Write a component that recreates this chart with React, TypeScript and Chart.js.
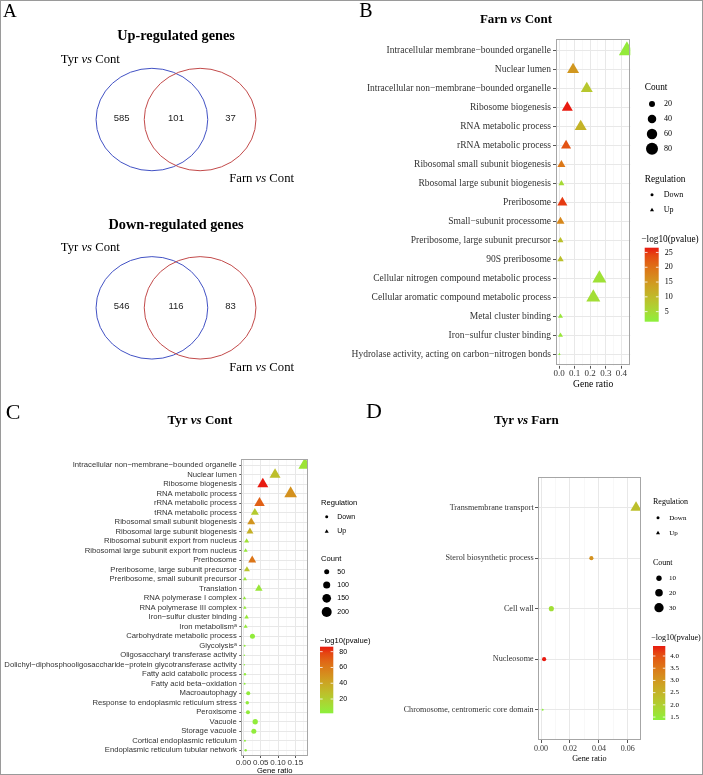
import React, { useEffect, useRef } from 'react';
import { Chart, registerables } from 'chart.js';

Chart.register(...registerables);

type Reg = 'Up' | 'Down';

const SERIF = '"Liberation Serif", "Times New Roman", serif';
const SANS = '"Liberation Sans", Arial, sans-serif';

// ================= DATA =================
// Panel A – Venn counts [left only, overlap, right only]
const VENN_TITLES = ['Up-regulated genes', 'Down-regulated genes'];
const VENN_LEFT_SET = 'Tyr';
const VENN_RIGHT_SET = 'Farn';
const VENN_UP_COUNTS = [585, 101, 37];
const VENN_DOWN_COUNTS = [546, 116, 83];

// Panel B – Farn vs Cont
const B_TERMS = [
  'Intracellular membrane−bounded organelle',
  'Nuclear lumen',
  'Intracellular non−membrane−bounded organelle',
  'Ribosome biogenesis',
  'RNA metabolic process',
  'rRNA metabolic process',
  'Ribosomal small subunit biogenesis',
  'Rbosomal large subunit biogenesis',
  'Preribosome',
  'Small−subunit processome',
  'Preribosome, large subunit precursor',
  '90S preribosome',
  'Cellular nitrogen compound metabolic process',
  'Cellular aromatic compound metabolic process',
  'Metal cluster binding',
  'Iron−sulfur cluster binding',
  'Hydrolase activity, acting on carbon−nitrogen bonds',
];
const B_RATIO = [0.436, 0.09, 0.178, 0.053, 0.139, 0.045, 0.015, 0.015, 0.021, 0.009, 0.009, 0.009, 0.259, 0.22, 0.009, 0.009, 0.002];
const B_COUNT = [80, 44, 44, 37, 44, 31, 20, 11, 31, 20, 11, 13, 60, 60, 8, 8, 2];
const B_LOGP = [2.5, 15, 8, 26.6, 11, 23, 19, 5, 25, 17, 9, 9, 4, 4.5, 3, 3, 1.6];
const B_REG: Reg[] = ['Up', 'Up', 'Up', 'Up', 'Up', 'Up', 'Up', 'Up', 'Up', 'Up', 'Up', 'Up', 'Up', 'Up', 'Up', 'Up', 'Up'];
const B_X_TICKS = [0, 0.1, 0.2, 0.3, 0.4];
const B_COUNT_BREAKS = [20, 40, 60, 80];
const B_COLOR_BREAKS = [5, 10, 15, 20, 25];

// Panel C – Tyr vs Cont
const C_TERMS = [
  'Intracellular non−membrane−bounded organelle',
  'Nuclear lumen',
  'Ribosome biogenesis',
  'RNA metabolic process',
  'rRNA metabolic process',
  'tRNA metabolic process',
  'Ribosomal small subunit biogenesis',
  'Ribosomal large subunit biogenesis',
  'Ribosomal subunit export from nucleus',
  'Ribosomal large subunit export from nucleus',
  'Preribosome',
  'Preribosome, large subunit precursor',
  'Preribosome, small subunit precursor',
  'Translation',
  'RNA polymerase I complex',
  'RNA polymerase III complex',
  'Iron−sulfur cluster binding',
  'Iron metabolismᵃ',
  'Carbohydrate metabolic process',
  'Glycolysisᵃ',
  'Oligosaccharyl transferase activity',
  'Dolichyl−diphosphooligosaccharide−protein glycotransferase activity',
  'Fatty acid catabolic process',
  'Fatty acid beta−oxidation',
  'Macroautophagy',
  'Response to endoplasmic reticulum stress',
  'Peroxisome',
  'Vacuole',
  'Storage vacuole',
  'Cortical endoplasmic reticulum',
  'Endoplasmic reticulum tubular network',
];
const C_RATIO = [0.178, 0.0914, 0.056, 0.1365, 0.0465, 0.033, 0.0225, 0.0187, 0.0092, 0.0063, 0.0253, 0.01, 0.0043, 0.0445, 0.003, 0.004, 0.009, 0.0063, 0.026, 0.0034, 0.0025, 0.0025, 0.0043, 0.0034, 0.0138, 0.011, 0.013, 0.034, 0.03, 0.0043, 0.0063];
const C_COUNT = [190, 133, 133, 177, 121, 70, 70, 54, 28, 18, 70, 40, 18, 62, 13, 13, 22, 18, 50, 8, 5, 5, 11, 8, 32, 24, 32, 56, 50, 8, 11];
const C_LOGP = [9, 28, 86.3, 50, 70, 22, 48, 35, 10, 6, 62, 25, 8, 7, 5, 5, 6, 5, 4, 3, 1.9, 2.5, 4, 3, 4, 4, 4, 4, 4, 3, 3];
const C_REG: Reg[] = [
  'Up', 'Up', 'Up', 'Up', 'Up', 'Up', 'Up', 'Up', 'Up', 'Up', 'Up', 'Up', 'Up', 'Up', 'Up', 'Up', 'Up', 'Up',
  'Down', 'Down', 'Down', 'Down', 'Down', 'Down', 'Down', 'Down', 'Down', 'Down', 'Down', 'Down', 'Down',
];
const C_X_TICKS = [0, 0.05, 0.1, 0.15];
const C_COUNT_BREAKS = [50, 100, 150, 200];
const C_COLOR_BREAKS = [20, 40, 60, 80];

// Panel D – Tyr vs Farn
const D_TERMS = [
  'Transmembrane transport',
  'Sterol biosynthetic process',
  'Cell wall',
  'Nucleosome',
  'Chromosome, centromeric core domain',
];
const D_RATIO = [0.0657, 0.0348, 0.0071, 0.0021, 0.0011];
const D_COUNT = [24, 6, 9, 6, 1.4];
const D_LOGP = [2.3, 3.1, 1.7, 4.41, 1.38];
const D_REG: Reg[] = ['Up', 'Down', 'Down', 'Down', 'Down'];
const D_X_TICKS = [0, 0.02, 0.04, 0.06];
const D_COUNT_BREAKS = [10, 20, 30];
const D_COLOR_BREAKS = [1.5, 2.0, 2.5, 3.0, 3.5, 4.0];

// ================= COLOUR =================
const LOW_COLOR = '#8CF03C';
const HIGH_COLOR = '#E81A10';

const XN = 0.95047;
const ZN = 1.08883;
function hexToRgb(h: string): number[] {
  const n = parseInt(h.slice(1), 16);
  return [(n >> 16) & 255, (n >> 8) & 255, n & 255];
}
const toLin = (c: number) => {
  c /= 255;
  return c <= 0.04045 ? c / 12.92 : Math.pow((c + 0.055) / 1.055, 2.4);
};
const fromLin = (c: number) => {
  const v = c <= 0.0031308 ? 12.92 * c : 1.055 * Math.pow(Math.max(c, 0), 1 / 2.4) - 0.055;
  return Math.round(Math.min(1, Math.max(0, v)) * 255);
};
function rgbToLab(rgb: number[]): number[] {
  const R = toLin(rgb[0]), G = toLin(rgb[1]), B = toLin(rgb[2]);
  const X = (0.4124 * R + 0.3576 * G + 0.1805 * B) / XN;
  const Y = 0.2126 * R + 0.7152 * G + 0.0722 * B;
  const Z = (0.0193 * R + 0.1192 * G + 0.9505 * B) / ZN;
  const f = (t: number) => (t > 0.008856 ? Math.cbrt(t) : 7.787 * t + 16 / 116);
  const fx = f(X), fy = f(Y), fz = f(Z);
  return [116 * fy - 16, 500 * (fx - fy), 200 * (fy - fz)];
}
function labToRgb(lab: number[]): number[] {
  const fy = (lab[0] + 16) / 116;
  const fx = fy + lab[1] / 500;
  const fz = fy - lab[2] / 200;
  const inv = (t: number) => (t * t * t > 0.008856 ? t * t * t : (t - 16 / 116) / 7.787);
  const X = inv(fx) * XN, Y = inv(fy), Z = inv(fz) * ZN;
  return [
    fromLin(3.2406 * X - 1.5372 * Y - 0.4986 * Z),
    fromLin(-0.9689 * X + 1.8758 * Y + 0.0415 * Z),
    fromLin(0.0557 * X - 0.204 * Y + 1.057 * Z),
  ];
}
const LAB_LOW = rgbToLab(hexToRgb(LOW_COLOR));
const LAB_HIGH = rgbToLab(hexToRgb(HIGH_COLOR));
function gradColor(t: number): string {
  const u = Math.min(1, Math.max(0, t));
  const lab = LAB_LOW.map((v, i) => v + (LAB_HIGH[i] - v) * u);
  const c = labToRgb(lab);
  return `rgb(${c[0]},${c[1]},${c[2]})`;
}

// ================= HELPERS =================
type Part = { t: string; f: string };
function drawParts(ctx: CanvasRenderingContext2D, parts: Part[], x: number, y: number, align: 'center' | 'left', color = '#000') {
  ctx.save();
  ctx.fillStyle = color;
  ctx.textBaseline = 'middle';
  ctx.textAlign = 'left';
  const widths = parts.map((p) => {
    ctx.font = p.f;
    return ctx.measureText(p.t).width;
  });
  const total = widths.reduce((a, b) => a + b, 0);
  let cx = align === 'center' ? x - total / 2 : x;
  parts.forEach((p, i) => {
    ctx.font = p.f;
    ctx.fillText(p.t, cx, y);
    cx += widths[i];
  });
  ctx.restore();
}
function drawText(ctx: CanvasRenderingContext2D, t: string, x: number, y: number, font: string, align: CanvasTextAlign = 'left', baseline: CanvasTextBaseline = 'middle', color = '#000') {
  ctx.save();
  ctx.font = font;
  ctx.fillStyle = color;
  ctx.textAlign = align;
  ctx.textBaseline = baseline;
  ctx.fillText(t, x, y);
  ctx.restore();
}
function drawShape(ctx: CanvasRenderingContext2D, shape: 'circle' | 'triangle', x: number, y: number, r: number, color: string) {
  ctx.save();
  ctx.fillStyle = color;
  ctx.beginPath();
  if (shape === 'circle') {
    ctx.arc(x, y, r, 0, Math.PI * 2);
  } else {
    const R = r * 1.555;
    let a = 0;
    ctx.moveTo(x + Math.sin(a) * R, y - Math.cos(a) * R);
    a += (2 * Math.PI) / 3;
    ctx.lineTo(x + Math.sin(a) * R, y - Math.cos(a) * R);
    a += (2 * Math.PI) / 3;
    ctx.lineTo(x + Math.sin(a) * R, y - Math.cos(a) * R);
    ctx.closePath();
  }
  ctx.fill();
  ctx.restore();
}

// ================= PANEL A (Venn) =================
const VENN_ROW_Y = [2.108, 5.429];
const VENN_OFFSET = 0.425;
const VENN_RX = 0.985;
const VENN_RY = 0.903;

function makeVenn(canvas: HTMLCanvasElement) {
  const rows = [VENN_UP_COUNTS, VENN_DOWN_COUNTS];
  const vennPlugin = {
    id: 'venn',
    afterDraw(chart: any) {
      const ctx: CanvasRenderingContext2D = chart.ctx;
      const xs = chart.scales.x;
      const ys = chart.scales.y;
      const unitX = xs.getPixelForValue(1) - xs.getPixelForValue(0);
      const unitY = Math.abs(ys.getPixelForValue(1) - ys.getPixelForValue(0));
      const left = chart.getDatasetMeta(0).data;
      const right = chart.getDatasetMeta(1).data;
      const colors = ['#4252C4', '#C24A4A'];
      drawText(ctx, 'A', 3, 17, `19px ${SERIF}`, 'left', 'alphabetic');
      rows.forEach((counts, r) => {
        [left[r], right[r]].forEach((el: any, k: number) => {
          ctx.save();
          ctx.strokeStyle = colors[k];
          ctx.lineWidth = 1;
          ctx.beginPath();
          ctx.ellipse(el.x, el.y, VENN_RX * unitX, VENN_RY * unitY, 0, 0, Math.PI * 2);
          ctx.stroke();
          ctx.restore();
        });
        const cx = (left[r].x + right[r].x) / 2;
        const cy = (left[r].y + right[r].y) / 2;
        drawText(ctx, VENN_TITLES[r], cx, cy - 1.46 * unitY, `bold 14.3px ${SERIF}`, 'center');
        drawParts(ctx, [
          { t: VENN_LEFT_SET + ' ', f: `12.7px ${SERIF}` },
          { t: 'vs', f: `italic 12.7px ${SERIF}` },
          { t: ' Cont', f: `12.7px ${SERIF}` },
        ], cx - 1.51 * unitX, cy - 1.06 * unitY, 'center');
        drawParts(ctx, [
          { t: VENN_RIGHT_SET + ' ', f: `12.7px ${SERIF}` },
          { t: 'vs', f: `italic 12.7px ${SERIF}` },
          { t: ' Cont', f: `12.7px ${SERIF}` },
        ], cx + 1.51 * unitX, cy + 1.05 * unitY, 'center');
        const xsPos = [cx - 0.96 * unitX, cx, cx + 0.96 * unitX];
        counts.forEach((c, i) => drawText(ctx, String(c), xsPos[i], cy - 0.025 * unitY, `9.5px ${SANS}`, 'center', 'middle', '#222'));
      });
    },
  };
  return new Chart(canvas, {
    type: 'scatter',
    data: {
      datasets: [
        { label: VENN_LEFT_SET + ' vs Cont', data: VENN_ROW_Y.map((y) => ({ x: -VENN_OFFSET, y })), pointRadius: 0 },
        { label: VENN_RIGHT_SET + ' vs Cont', data: VENN_ROW_Y.map((y) => ({ x: VENN_OFFSET, y })), pointRadius: 0 },
      ],
    },
    options: {
      responsive: false,
      animation: false,
      events: [],
      layout: { padding: 0 },
      plugins: { legend: { display: false }, tooltip: { enabled: false } },
      scales: {
        x: { type: 'linear', display: false, min: -3.104, max: 3.104 },
        y: { type: 'linear', display: false, min: 0, max: 6.878, reverse: true },
      },
    } as any,
    plugins: [vennPlugin],
  });
}

// ================= DOT PLOTS =================
interface LegendLayout {
  regTitle: number[]; regSymX: number; regLabelX: number; regYs: number[];
  countTitle: number[]; countSymX: number; countLabelX: number; countYs: number[];
  colorTitle: number[]; bar: number[]; barLabelX: number;
}
interface DotCfg {
  W: number; H: number;
  area: { left: number; right: number; top: number; bottom: number };
  terms: string[]; ratio: number[]; count: number[]; logp: number[]; reg: Reg[];
  xMajor: number[]; decimals: number;
  countBreaks: number[]; colorBreaks: number[]; colorDecimals: number;
  sizeK: number;
  labelFont: string; yLabelSize: number; xLabelSize: number;
  yTickLen: number; yPad: number; xTickLen: number; xPad: number;
  letter: { text: string; size: number; x: number; y: number };
  title: { parts: string[]; size: number; cx: number; cy: number };
  xTitle: { size: number; cy: number; font: string };
  legendFont: string; legendTitleSize: number; legendLabelSize: number;
  legend: LegendLayout;
}

function makeDot(canvas: HTMLCanvasElement, cfg: DotCfg) {
  const n = cfg.terms.length;
  const dmin = Math.min(...cfg.ratio);
  const dmax = Math.max(...cfg.ratio);
  const ex = (dmax - dmin) * 0.05;
  const xMin = dmin - ex;
  const xMax = dmax + ex;
  const step = cfg.xMajor[1] - cfg.xMajor[0];
  const minor: number[] = [];
  [cfg.xMajor[0] - step, ...cfg.xMajor].forEach((m) => {
    const v = m + step / 2;
    if (v > xMin && v < xMax) minor.push(v);
  });
  const pMin = Math.min(...cfg.logp);
  const pMax = Math.max(...cfg.logp);
  const colorOf = (v: number) => gradColor((v - pMin) / (pMax - pMin));
  const radiusOf = (c: number) => cfg.sizeK * Math.sqrt(c);

  const decor = {
    id: 'decor',
    afterDraw(chart: any) {
      const ctx: CanvasRenderingContext2D = chart.ctx;
      const a = chart.chartArea;
      // panel border
      ctx.save();
      ctx.strokeStyle = '#A6A6A6';
      ctx.lineWidth = 1;
      ctx.strokeRect(Math.round(a.left) + 0.5, Math.round(a.top) + 0.5, Math.round(a.right - a.left) - 1, Math.round(a.bottom - a.top) - 1);
      ctx.restore();
      // letter + title
      drawText(ctx, cfg.letter.text, cfg.letter.x, cfg.letter.y, `${cfg.letter.size}px ${SERIF}`, 'left', 'alphabetic');
      const tp = cfg.title.parts;
      drawParts(ctx, [
        { t: tp[0], f: `bold ${cfg.title.size}px ${SERIF}` },
        { t: tp[1], f: `bold italic ${cfg.title.size}px ${SERIF}` },
        { t: tp[2], f: `bold ${cfg.title.size}px ${SERIF}` },
      ], cfg.title.cx, cfg.title.cy, 'center');
      // x title
      drawText(ctx, 'Gene ratio', (a.left + a.right) / 2, cfg.xTitle.cy, `${cfg.xTitle.size}px ${cfg.xTitle.font}`, 'center');
      // legends
      const L = cfg.legend;
      const tf = `${cfg.legendTitleSize}px ${cfg.legendFont}`;
      const lf = `${cfg.legendLabelSize}px ${cfg.legendFont}`;
      drawText(ctx, 'Regulation', L.regTitle[0], L.regTitle[1], tf);
      drawShape(ctx, 'circle', L.regSymX, L.regYs[0], 1.5, '#000');
      drawText(ctx, 'Down', L.regLabelX, L.regYs[0], lf);
      drawShape(ctx, 'triangle', L.regSymX, L.regYs[1] + 0.5, 1.5, '#000');
      drawText(ctx, 'Up', L.regLabelX, L.regYs[1], lf);
      drawText(ctx, 'Count', L.countTitle[0], L.countTitle[1], tf);
      cfg.countBreaks.forEach((b, i) => {
        drawShape(ctx, 'circle', L.countSymX, L.countYs[i], radiusOf(b), '#000');
        drawText(ctx, String(b), L.countLabelX, L.countYs[i], lf);
      });
      drawText(ctx, '−log10(pvalue)', L.colorTitle[0], L.colorTitle[1], tf);
      const [bx, by, bw, bh] = L.bar;
      const g = ctx.createLinearGradient(0, by + bh, 0, by);
      for (let i = 0; i <= 10; i++) g.addColorStop(i / 10, gradColor(i / 10));
      ctx.save();
      ctx.fillStyle = g;
      ctx.fillRect(bx, by, bw, bh);
      ctx.strokeStyle = '#fff';
      ctx.lineWidth = 0.8;
      cfg.colorBreaks.forEach((v) => {
        const yy = by + bh * (1 - (v - pMin) / (pMax - pMin));
        ctx.beginPath();
        ctx.moveTo(bx, yy);
        ctx.lineTo(bx + bw / 5, yy);
        ctx.moveTo(bx + (bw * 4) / 5, yy);
        ctx.lineTo(bx + bw, yy);
        ctx.stroke();
        drawText(ctx, v.toFixed(cfg.colorDecimals), L.barLabelX, yy, lf);
      });
      ctx.restore();
    },
  };

  const xTicks = [...cfg.xMajor.map((v) => ({ value: v, minor: false })), ...minor.map((v) => ({ value: v, minor: true }))].sort((p, q) => p.value - q.value);

  return new Chart(canvas, {
    type: 'scatter',
    data: {
      datasets: [
        {
          label: 'terms',
          data: cfg.terms.map((_, i) => ({ x: cfg.ratio[i], y: i })),
          pointStyle: (c: any) => (cfg.reg[c.dataIndex] === 'Up' ? 'triangle' : 'circle'),
          pointRadius: (c: any) => {
            const r = radiusOf(cfg.count[c.dataIndex]);
            return cfg.reg[c.dataIndex] === 'Up' ? r * 1.555 : r;
          },
          pointBackgroundColor: (c: any) => colorOf(cfg.logp[c.dataIndex]),
          pointBorderWidth: 0,
          pointBorderColor: 'rgba(0,0,0,0)',
          clip: 0,
        },
      ],
    },
    options: {
      responsive: false,
      animation: false,
      events: [],
      layout: { padding: { left: 0, top: cfg.area.top, right: cfg.W - cfg.area.right, bottom: 0 } },
      plugins: { legend: { display: false }, tooltip: { enabled: false }, title: { display: false } },
      scales: {
        x: {
          type: 'linear',
          min: xMin,
          max: xMax,
          afterBuildTicks: (s: any) => {
            s.ticks = xTicks.map((t) => ({ ...t }));
          },
          afterFit: (s: any) => {
            s.height = cfg.H - cfg.area.bottom;
          },
          ticks: {
            autoSkip: false,
            maxRotation: 0,
            padding: cfg.xPad,
            color: '#333',
            font: { family: cfg.labelFont, size: cfg.xLabelSize },
            callback: (v: any, i: number, ticks: any[]) => (ticks[i] && ticks[i].minor ? '' : Number(v).toFixed(cfg.decimals)),
          },
          grid: {
            color: (c: any) => (c.tick && c.tick.minor ? '#F3F3F3' : '#E8E8E8'),
            lineWidth: (c: any) => (c.tick && c.tick.minor ? 0.6 : 1),
            tickColor: (c: any) => (c.tick && c.tick.minor ? 'rgba(0,0,0,0)' : '#555'),
            tickLength: cfg.xTickLen,
          },
          border: { display: false },
        },
        y: {
          type: 'linear',
          reverse: true,
          min: -0.6,
          max: n - 0.4,
          afterBuildTicks: (s: any) => {
            s.ticks = cfg.terms.map((_, i) => ({ value: i }));
          },
          afterFit: (s: any) => {
            s.width = cfg.area.left;
          },
          ticks: {
            autoSkip: false,
            padding: cfg.yPad,
            color: '#333',
            font: { family: cfg.labelFont, size: cfg.yLabelSize },
            callback: (v: any) => cfg.terms[Math.round(Number(v))] ?? '',
          },
          grid: { color: '#E8E8E8', lineWidth: 1, tickColor: '#555', tickLength: cfg.yTickLen },
          border: { display: false },
        },
      },
    } as any,
    plugins: [decor],
  });
}

const CFG_B: DotCfg = {
  W: 351, H: 390,
  area: { left: 204, right: 278.3, top: 39.3, bottom: 365.7 },
  terms: B_TERMS, ratio: B_RATIO, count: B_COUNT, logp: B_LOGP, reg: B_REG,
  xMajor: B_X_TICKS, decimals: 1,
  countBreaks: B_COUNT_BREAKS, colorBreaks: B_COLOR_BREAKS, colorDecimals: 0,
  sizeK: 0.67,
  labelFont: SERIF, yLabelSize: 9.5, xLabelSize: 9,
  yTickLen: 3, yPad: 2, xTickLen: 3, xPad: 0,
  letter: { text: 'B', size: 20, x: 7.3, y: 17 },
  title: { parts: ['Farn ', 'vs', ' Cont'], size: 13, cx: 164, cy: 20 },
  xTitle: { size: 9.6, cy: 384, font: SERIF },
  legendFont: SERIF, legendTitleSize: 9.3, legendLabelSize: 8,
  legend: {
    regTitle: [292.7, 179.3], regSymX: 300, regLabelX: 311.7, regYs: [194.7, 209.7],
    countTitle: [292.7, 88], countSymX: 300, countLabelX: 312, countYs: [104, 119, 134, 148.7],
    colorTitle: [289.3, 240], bar: [292.7, 247.7, 14, 74], barLabelX: 312.7,
  },
};

const CFG_C: DotCfg = {
  W: 400, H: 385,
  area: { left: 241.3, right: 308, top: 69.3, bottom: 366 },
  terms: C_TERMS, ratio: C_RATIO, count: C_COUNT, logp: C_LOGP, reg: C_REG,
  xMajor: C_X_TICKS, decimals: 2,
  countBreaks: C_COUNT_BREAKS, colorBreaks: C_COLOR_BREAKS, colorDecimals: 0,
  sizeK: 0.354,
  labelFont: SANS, yLabelSize: 7.7, xLabelSize: 8,
  yTickLen: 2, yPad: 2.5, xTickLen: 2, xPad: 0,
  letter: { text: 'C', size: 22, x: 5.7, y: 29 },
  title: { parts: ['Tyr ', 'vs', ' Cont'], size: 13, cx: 200, cy: 30.7 },
  xTitle: { size: 7.6, cy: 380.7, font: SANS },
  legendFont: SANS, legendTitleSize: 7.6, legendLabelSize: 7,
  legend: {
    regTitle: [321, 113.3], regSymX: 326.7, regLabelX: 337.3, regYs: [126.7, 141],
    countTitle: [321, 168.7], countSymX: 326.7, countLabelX: 337.3, countYs: [181.7, 195, 208.3, 222],
    colorTitle: [320, 250.7], bar: [320, 256.7, 13.3, 66.6], barLabelX: 339.3,
  },
};

const CFG_D: DotCfg = {
  W: 351, H: 385,
  area: { left: 186, right: 288.7, top: 87.3, bottom: 350 },
  terms: D_TERMS, ratio: D_RATIO, count: D_COUNT, logp: D_LOGP, reg: D_REG,
  xMajor: D_X_TICKS, decimals: 2,
  countBreaks: D_COUNT_BREAKS, colorBreaks: D_COLOR_BREAKS, colorDecimals: 1,
  sizeK: 0.85,
  labelFont: SERIF, yLabelSize: 8.2, xLabelSize: 8,
  yTickLen: 3, yPad: 1.3, xTickLen: 3, xPad: 1.5,
  letter: { text: 'D', size: 22, x: 14, y: 28.3 },
  title: { parts: ['Tyr ', 'vs', ' Farn'], size: 13, cx: 174.3, cy: 30.7 },
  xTitle: { size: 8.2, cy: 369, font: SERIF },
  legendFont: SERIF, legendTitleSize: 8, legendLabelSize: 7,
  legend: {
    regTitle: [301, 112.3], regSymX: 306, regLabelX: 317.3, regYs: [127.7, 142.7],
    countTitle: [301, 173.3], countSymX: 307, countLabelX: 317, countYs: [188.3, 202.7, 217.7],
    colorTitle: [299.3, 248.3], bar: [301, 256, 12.3, 74], barLabelX: 318.3,
  },
};

export default function App() {
  const aRef = useRef<HTMLCanvasElement>(null);
  const bRef = useRef<HTMLCanvasElement>(null);
  const cRef = useRef<HTMLCanvasElement>(null);
  const dRef = useRef<HTMLCanvasElement>(null);

  useEffect(() => {
    const charts: Chart[] = [];
    if (aRef.current) charts.push(makeVenn(aRef.current));
    if (bRef.current) charts.push(makeDot(bRef.current, CFG_B));
    if (cRef.current) charts.push(makeDot(cRef.current, CFG_C));
    if (dRef.current) charts.push(makeDot(dRef.current, CFG_D));
    return () => charts.forEach((c) => c.destroy());
  }, []);

  const abs = (left: number, top: number): React.CSSProperties => ({ position: 'absolute', left, top });

  return (
    <div style={{ position: 'absolute', left: 0, top: 0, width: 703, height: 775, background: '#fff', overflow: 'hidden' }}>
      <canvas ref={aRef} width={352} height={390} style={abs(0, 0)} />
      <canvas ref={bRef} width={351} height={390} style={abs(352, 0)} />
      <canvas ref={cRef} width={400} height={385} style={abs(0, 390)} />
      <canvas ref={dRef} width={351} height={385} style={abs(352, 390)} />
      <div style={{ position: 'absolute', left: 0, top: 0, width: 703, height: 775, border: '1px solid #9a9a9a', boxSizing: 'border-box', pointerEvents: 'none' }} />
    </div>
  );
}
